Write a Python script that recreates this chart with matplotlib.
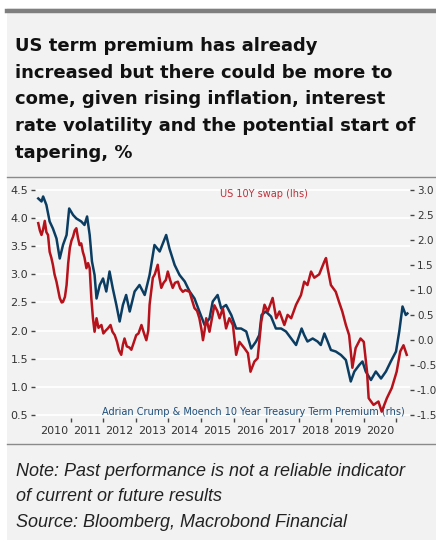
import matplotlib
matplotlib.use("Agg")
import matplotlib.pyplot as plt
from matplotlib.lines import Line2D
from matplotlib.patches import Rectangle
from matplotlib.ticker import FixedLocator, NullFormatter, FixedFormatter

# ---------------------------------------------------------------------------
# DATA (decimal years)
# ---------------------------------------------------------------------------
swap_years = [
    2010.00, 2010.05, 2010.10, 2010.15, 2010.20, 2010.25, 2010.30, 2010.35,
    2010.40, 2010.45, 2010.50, 2010.56, 2010.62, 2010.66, 2010.72, 2010.76,
    2010.82, 2010.87, 2010.92, 2010.97, 2011.02, 2011.07, 2011.12, 2011.17,
    2011.22, 2011.27, 2011.32, 2011.37, 2011.42, 2011.48, 2011.53, 2011.58,
    2011.63, 2011.68, 2011.73, 2011.79, 2011.85, 2011.94, 2012.00, 2012.07,
    2012.14, 2012.22, 2012.28, 2012.35, 2012.42, 2012.48, 2012.55, 2012.60,
    2012.65, 2012.72, 2012.80, 2012.86, 2012.93, 2013.01, 2013.08, 2013.17,
    2013.25, 2013.32, 2013.38, 2013.42, 2013.47, 2013.52, 2013.58, 2013.67,
    2013.72, 2013.78, 2013.85, 2013.92, 2013.98, 2014.05, 2014.13, 2014.20,
    2014.29, 2014.36, 2014.44, 2014.52, 2014.65, 2014.72, 2014.80, 2014.88,
    2014.95, 2015.02, 2015.06, 2015.11, 2015.16, 2015.21, 2015.26, 2015.33,
    2015.41, 2015.50, 2015.57, 2015.67, 2015.77, 2015.87, 2015.98, 2016.08,
    2016.18, 2016.33, 2016.44, 2016.52, 2016.64, 2016.74, 2016.85, 2016.95,
    2017.05, 2017.20, 2017.31, 2017.41, 2017.56, 2017.66, 2017.77, 2017.92,
    2018.07, 2018.17, 2018.27, 2018.38, 2018.48, 2018.63, 2018.79, 2018.84,
    2018.89, 2018.99, 2019.14, 2019.24, 2019.34, 2019.45, 2019.55, 2019.65,
    2019.75, 2019.90, 2020.00, 2020.10, 2020.15, 2020.30, 2020.45, 2020.55,
    2020.71, 2020.86, 2021.01, 2021.12, 2021.22, 2021.32,
]
swap_values = [
    3.91, 3.78, 3.70, 3.80, 3.95, 3.75, 3.70, 3.40,
    3.30, 3.17, 3.00, 2.87, 2.70, 2.58, 2.50, 2.51,
    2.60, 2.81, 3.20, 3.47, 3.60, 3.67, 3.78, 3.82,
    3.65, 3.52, 3.55, 3.40, 3.30, 3.11, 3.20, 3.11,
    2.58, 2.22, 1.98, 2.22, 2.05, 2.10, 1.95, 2.00,
    2.04, 2.10, 1.98, 1.92, 1.80, 1.65, 1.57, 1.75,
    1.86, 1.72, 1.70, 1.66, 1.78, 1.92, 1.95, 2.10,
    1.95, 1.83, 2.00, 2.46, 2.70, 2.94, 3.00, 3.17,
    2.95, 2.76, 2.85, 2.90, 3.05, 2.90, 2.76, 2.85,
    2.87, 2.75, 2.69, 2.72, 2.69, 2.55, 2.40, 2.35,
    2.22, 2.00, 1.83, 2.00, 2.22, 2.10, 1.98, 2.20,
    2.45, 2.35, 2.22, 2.40, 2.04, 2.22, 2.10, 1.57,
    1.80, 1.69, 1.60, 1.27, 1.45, 1.51, 2.16, 2.46,
    2.34, 2.58, 2.22, 2.34, 2.10, 2.28, 2.22, 2.46,
    2.63, 2.87, 2.81, 3.05, 2.94, 3.00, 3.23, 3.29,
    3.11, 2.81, 2.69, 2.51, 2.34, 2.10, 1.92, 1.34,
    1.69, 1.86, 1.80, 1.27, 0.80, 0.68, 0.74, 0.56,
    0.80, 0.98, 1.27, 1.63, 1.74, 1.57,
]

tp_years = [
    2010.00, 2010.10, 2010.15, 2010.25, 2010.35, 2010.45, 2010.56, 2010.66,
    2010.76, 2010.87, 2010.95, 2011.07, 2011.17, 2011.32, 2011.42, 2011.50,
    2011.58, 2011.65, 2011.73, 2011.79, 2011.89, 2011.99, 2012.09, 2012.19,
    2012.29, 2012.40, 2012.50, 2012.60, 2012.70, 2012.81, 2012.96, 2013.11,
    2013.27, 2013.42, 2013.57, 2013.73, 2013.93, 2014.03, 2014.19, 2014.34,
    2014.50, 2014.65, 2014.80, 2014.95, 2015.11, 2015.26, 2015.36, 2015.51,
    2015.62, 2015.77, 2015.93, 2016.08, 2016.23, 2016.39, 2016.54, 2016.69,
    2016.79, 2016.86, 2016.99, 2017.15, 2017.30, 2017.46, 2017.61, 2017.77,
    2017.92, 2018.09, 2018.17, 2018.27, 2018.43, 2018.58, 2018.68, 2018.79,
    2018.89, 2018.99, 2019.14, 2019.30, 2019.45, 2019.60, 2019.71, 2019.86,
    2019.96, 2020.06, 2020.22, 2020.37, 2020.53, 2020.68, 2020.83, 2020.99,
    2021.09, 2021.19, 2021.29, 2021.34,
]
tp_values = [
    2.83, 2.77, 2.87, 2.70, 2.37, 2.23, 2.03, 1.63,
    1.90, 2.10, 2.63, 2.50, 2.43, 2.37, 2.30, 2.47,
    2.10, 1.57, 1.30, 0.83, 1.10, 1.23, 0.97, 1.37,
    1.03, 0.70, 0.37, 0.70, 0.90, 0.57, 0.97, 1.10,
    0.90, 1.30, 1.90, 1.77, 2.10, 1.83, 1.50, 1.30,
    1.17, 0.97, 0.83, 0.57, 0.30, 0.43, 0.77, 0.90,
    0.63, 0.70, 0.50, 0.23, 0.23, 0.17, -0.17, -0.03,
    0.10, 0.50, 0.57, 0.47, 0.23, 0.23, 0.17, 0.03,
    -0.10, 0.23, 0.10, -0.03, 0.03, -0.03, -0.10, 0.13,
    -0.03, -0.20, -0.23, -0.30, -0.40, -0.83, -0.63, -0.50,
    -0.43, -0.63, -0.80, -0.63, -0.77, -0.63, -0.43, -0.23,
    0.17, 0.67, 0.50, 0.53,
]

year_labels = ["2010", "2011", "2012", "2013", "2014", "2015",
               "2016", "2017", "2018", "2019", "2020"]
left_ticks = [0.5, 1.0, 1.5, 2.0, 2.5, 3.0, 3.5, 4.0, 4.5]
right_ticks = [-1.5, -1.0, -0.5, 0.0, 0.5, 1.0, 1.5, 2.0, 2.5, 3.0]

TITLE = ("US term premium has already\n"
         "increased but there could be more to\n"
         "come, given rising inflation, interest\n"
         "rate volatility and the potential start of\n"
         "tapering, %")
FOOTER = ("Note: Past performance is not a reliable indicator\n"
          "of current or future results\n"
          "Source: Bloomberg, Macrobond Financial")

RED = "#b5121b"
BLUE = "#0b3d62"
BG = "#f2f2f2"

plt.rcParams["font.family"] = ["DejaVu Sans"]
plt.rcParams["axes.unicode_minus"] = False

W, H = 436, 540
fig = plt.figure(figsize=(W / 100, H / 100), dpi=100)
fig.patch.set_facecolor("white")

# grey panel + separator rules
fig.add_artist(Rectangle((7 / W, 0), 1, 1 - 8 / H, transform=fig.transFigure,
                         facecolor=BG, edgecolor="none", zorder=0))
fig.add_artist(Line2D([7 / W, 1], [1 - 10.5 / H] * 2, color="#7f7f7f", lw=3.2))
fig.add_artist(Line2D([7 / W, 1], [1 - 177 / H] * 2, color="#8a8a8a", lw=1.0))
fig.add_artist(Line2D([7 / W, 1], [1 - 444 / H] * 2, color="#8a8a8a", lw=1.0))

fig.text(15 / W, 1 - 37 / H, TITLE, fontsize=13, fontweight="bold",
         color="#111111", va="top", ha="left", linespacing=1.62)
fig.text(16 / W, 1 - 463 / H, FOOTER, fontsize=13, style="italic",
         family="Liberation Sans", color="#222222", va="top", ha="left",
         linespacing=1.65)

# ---------------------------------------------------------------------------
# CHART: ax = left scale + grid (back), ax2 = term premium (rhs),
#        ax3 = swap on the left scale, drawn on top
# ---------------------------------------------------------------------------
ax = fig.add_axes([35 / W, 122 / H, 375 / W, 230 / H])
ax.set_facecolor(BG)
ax.set_xlim(2009.9, 2021.42)
ylim_left = (0.447, 4.535)
ax.set_ylim(*ylim_left)
ax.set_yticks(left_ticks)
ax.set_yticklabels([f"{v:.1f}" for v in left_ticks])
ax.grid(axis="y", color="white", lw=1.3)
ax.set_axisbelow(True)

ax2 = ax.twinx()
ax2.plot(tp_years, tp_values, color=BLUE, lw=1.8)
ax2.set_ylim((ylim_left[0] - 0.5) * 1.125 - 1.5, (ylim_left[1] - 0.5) * 1.125 - 1.5)
ax2.set_yticks(right_ticks)
ax2.set_yticklabels([f"{v:.1f}" for v in right_ticks])

ax3 = ax.twinx()
ax3.plot(swap_years, swap_values, color=RED, lw=1.8)
ax3.set_ylim(*ylim_left)
ax3.tick_params(axis="y", right=False, labelright=False)

for a in (ax, ax2, ax3):
    for s in a.spines.values():
        s.set_visible(False)
ax.tick_params(axis="y", length=3, width=1, colors="#444444",
               labelsize=8, pad=2, labelcolor="#333333")
ax2.tick_params(axis="y", length=3, width=1, colors="#444444",
                labelsize=7.5, pad=2, labelcolor="#333333")

ax.xaxis.set_major_locator(FixedLocator(list(range(2011, 2022))))
ax.xaxis.set_major_formatter(NullFormatter())
ax.xaxis.set_minor_locator(FixedLocator([int(y) + 0.5 for y in year_labels]))
ax.xaxis.set_minor_formatter(FixedFormatter(year_labels))
ax.tick_params(axis="x", which="major", length=3, width=1, color="#444444")
ax.tick_params(axis="x", which="minor", length=0, labelsize=8,
               labelcolor="#333333", pad=6)

ax3.text(0.493, 0.975, "US 10Y swap (lhs)", transform=ax3.transAxes,
         color="#c0303a", fontsize=7, ha="left", va="center")
ax3.text(0.987, 0.026, "Adrian Crump & Moench 10 Year Treasury Term Premium (rhs)",
         transform=ax3.transAxes, color="#1f4e79", fontsize=7,
         ha="right", va="center")

fig.savefig("out.png", dpi=100, facecolor=fig.get_facecolor())
